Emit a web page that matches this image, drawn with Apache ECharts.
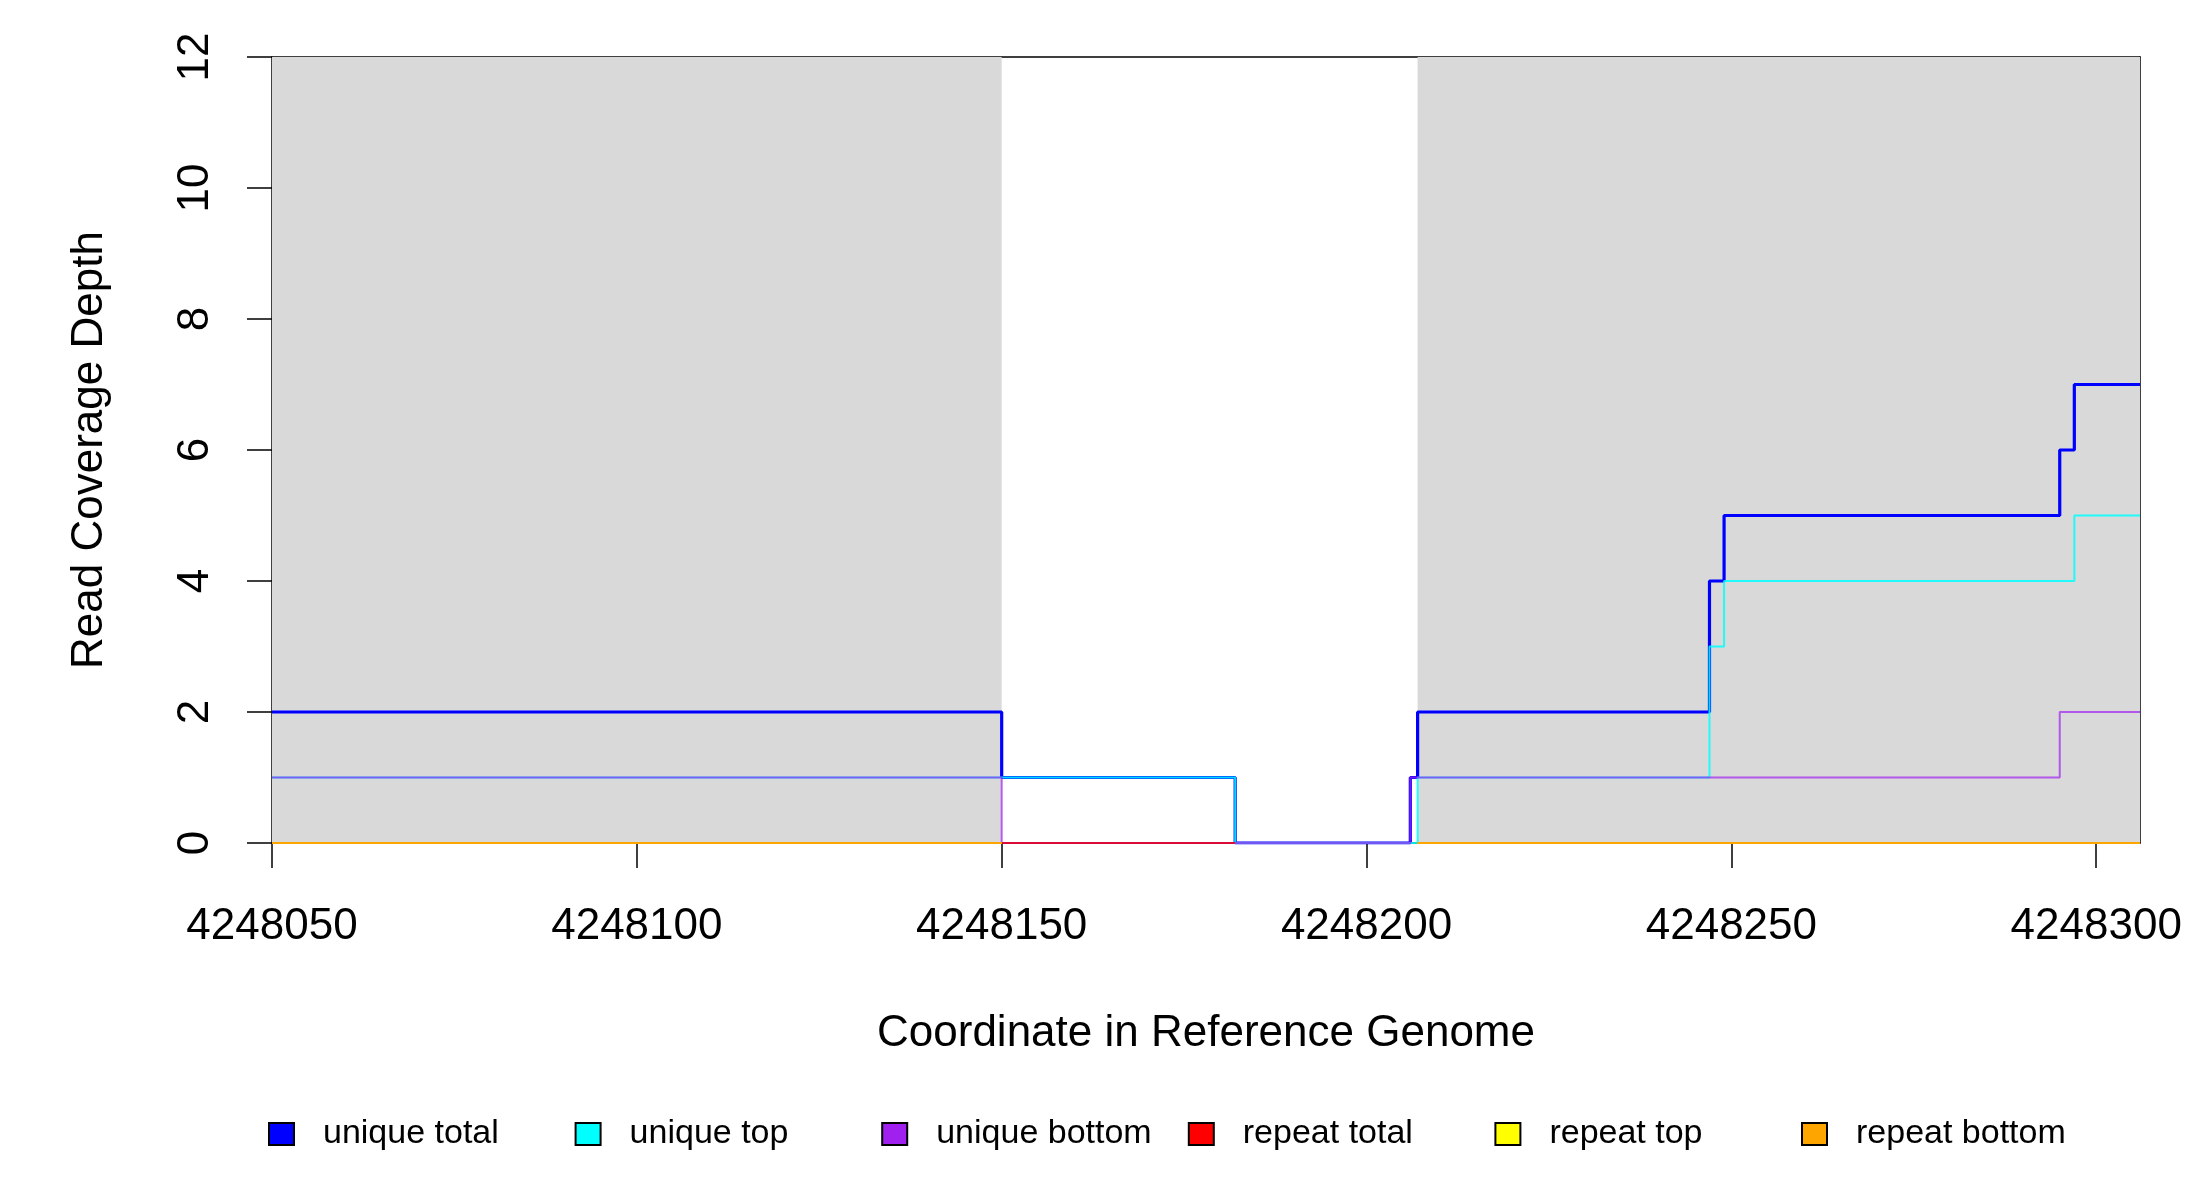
<!DOCTYPE html>
<html>
<head>
<meta charset="utf-8">
<script src="https://cdn.jsdelivr.net/npm/echarts@6/dist/echarts.min.js"></script>
<style>
html,body{margin:0;padding:0;background:#fff;}
#chart{width:2200px;height:1200px;}
</style>
</head>
<body>
<div id="chart"></div>
<script>
// ---- data ----
const xMin = 4248050;
const xMax = 4248306;
const xTicks = [4248050, 4248100, 4248150, 4248200, 4248250, 4248300];
const yTicks = [0, 2, 4, 6, 8, 10, 12];

const shadeStarts = [4248050, 4248207];
const shadeEnds = [4248150, 4248306];

const uniqueTotalPos = [4248050, 4248150, 4248182, 4248206, 4248207, 4248247, 4248249, 4248295, 4248297, 4248306];
const uniqueTotal    = [2, 1, 0, 1, 2, 4, 5, 6, 7, 7];

const uniqueTopPos = [4248050, 4248182, 4248207, 4248247, 4248249, 4248297, 4248306];
const uniqueTop    = [1, 0, 1, 3, 4, 5, 5];

const uniqueBottomPos = [4248050, 4248150, 4248206, 4248295, 4248306];
const uniqueBottom    = [1, 0, 1, 2, 2];

const repeatTotalPos = [4248050, 4248182, null, 4248207, 4248306];
const repeatTotal    = [0, 0, null, 0, 0];

const repeatTopPos = [4248050, 4248150, null, 4248207, 4248306];
const repeatTop    = [0, 0, null, 0, 0];

const repeatBottomPos = [4248050, 4248150, null, 4248207, 4248306];
const repeatBottom    = [0, 0, null, 0, 0];

const seriesNames = ['unique total', 'unique top', 'unique bottom', 'repeat total', 'repeat top', 'repeat bottom'];
const seriesColors = ['#0000FF', '#00FFFF', '#A020F0', '#FF0000', '#FFFF00', '#FFA500'];

// ---- build ----
function pairs(pos, val) {
  return pos.map((p, i) => p === null ? ['-', '-'] : [p, val[i]]);
}
const seriesData = [
  pairs(uniqueTotalPos, uniqueTotal),
  pairs(uniqueTopPos, uniqueTop),
  pairs(uniqueBottomPos, uniqueBottom),
  pairs(repeatTotalPos, repeatTotal),
  pairs(repeatTopPos, repeatTop),
  pairs(repeatBottomPos, repeatBottom)
];
const widths = [3.2, 2, 2, 2, 2, 2];
const opac = [1, 0.85, 0.7, 0.7, 1, 1];
const zs = [3, 4, 5, 6, 6.5, 7];

const FONT = 'Liberation Sans, Arial, sans-serif';

const series = [{
  type: 'line',
  data: [],
  z: 1,
  silent: true,
  markArea: {
    silent: true,
    itemStyle: { color: '#d9d9d9' },
    data: shadeStarts.map((s, i) => [{ xAxis: s }, { xAxis: shadeEnds[i] }])
  }
}];
seriesNames.forEach((n, i) => {
  series.push({
    name: n,
    type: 'line',
    step: 'end',
    showSymbol: false,
    symbol: 'none',
    z: zs[i],
    color: seriesColors[i],
    itemStyle: { color: seriesColors[i] },
    lineStyle: { color: seriesColors[i], width: widths[i], opacity: opac[i] },
    data: seriesData[i]
  });
});

const legends = seriesNames.map((n, i) => ({
  data: [n],
  left: 268 + i * 306.6,
  top: 1117,
  padding: 0,
  icon: 'rect',
  itemWidth: 25,
  itemHeight: 22,
  itemStyle: { borderColor: '#000', borderWidth: 2 },
  textStyle: { fontSize: 34, color: '#000', fontFamily: FONT, padding: [0, 0, 0, 24] },
  selectedMode: false
}));

const chart = echarts.init(document.getElementById('chart'));
chart.setOption({
  animation: false,
  backgroundColor: '#fff',
  textStyle: { fontFamily: FONT },
  grid: { left: 272, right: 60, top: 57, bottom: 357, show: false },
  legend: legends,
  xAxis: [{
    type: 'value', min: xMin, max: xMax, interval: 50,
    axisLine: { show: true, onZero: false, lineStyle: { color: '#000', width: 1.5 } },
    axisTick: { show: true, length: 25, customValues: xTicks, lineStyle: { color: '#000', width: 1.5 } },
    axisLabel: { customValues: xTicks, formatter: v => String(v), fontSize: 44, color: '#000', margin: 62, fontFamily: FONT },
    splitLine: { show: false },
    name: 'Coordinate in Reference Genome',
    nameLocation: 'middle', nameGap: 169,
    nameTextStyle: { fontSize: 44, color: '#000', fontFamily: FONT }
  }, {
    type: 'value', min: xMin, max: xMax, position: 'top',
    axisLine: { show: true, onZero: false, lineStyle: { color: '#000', width: 1.5 } },
    axisTick: { show: false }, axisLabel: { show: false }, splitLine: { show: false }
  }],
  yAxis: [{
    type: 'value', min: 0, max: 12, interval: 2,
    axisLine: { show: true, onZero: false, lineStyle: { color: '#000', width: 1.5 } },
    axisTick: { show: true, length: 25, lineStyle: { color: '#000', width: 1.5 } },
    axisLabel: { rotate: 90, fontSize: 44, color: '#000', margin: 54, fontFamily: FONT },
    splitLine: { show: false },
    name: 'Read Coverage Depth',
    nameLocation: 'middle', nameGap: 160,
    nameTextStyle: { fontSize: 44, color: '#000', fontFamily: FONT }
  }, {
    type: 'value', min: 0, max: 12, position: 'right',
    axisLine: { show: true, onZero: false, lineStyle: { color: '#000', width: 1.5 } },
    axisTick: { show: false }, axisLabel: { show: false }, splitLine: { show: false }
  }],
  series: series
});
</script>
</body>
</html>
